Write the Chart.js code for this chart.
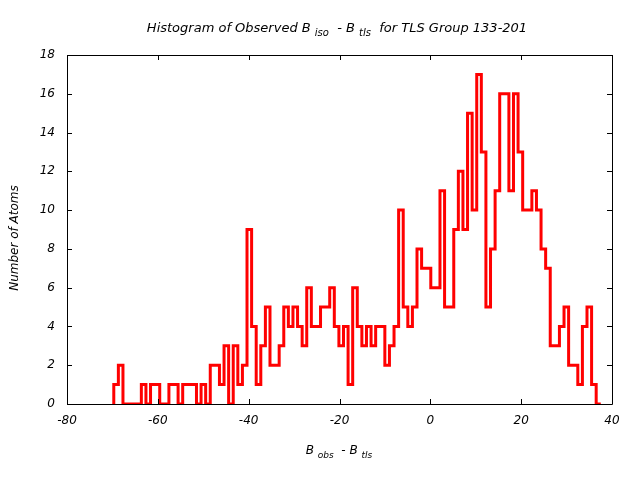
<!DOCTYPE html>
<html>
<head>
<meta charset="utf-8">
<script src="https://cdn.jsdelivr.net/npm/chart.js@4/dist/chart.umd.min.js"></script>
<style>
  html, body { margin: 0; padding: 0; background: #fff; }
</style>
</head>
<body>
<canvas id="hist" width="640" height="480"></canvas>
<script>
// counts per bin from left to right
var counts = [1,2,0,0,0,0,1,0,1,1, 0,0,1,1,0,1,1,1,0,1,
              0,2,2,1,3,0,3,1,2,9, 4,1,3,5,2,2,3,5,4,5,
              4,3,6,4,4,5,5,6,4,3, 4,1,6,4,3,4,3,4,4,2,
              3,4,10,5,4,5,8,7,7,6, 6,11,5,5,9,12,9,15,10,17,
              13,5,8,11,16,16,11,16,13,10, 10,11,10,8,7,3,3,4,5,2,
              2,1,4,5,1,0];
var binStart = -69.7;
var binWidth = 1.0116;
var xTicks = [-80, -60, -40, -20, 0, 20, 40];
var yTicks = [0, 2, 4, 6, 8, 10, 12, 14, 16, 18];

var FONT = '"DejaVu Sans", sans-serif';

// step outline: one point per left bin edge, closed at both ends on zero
var pts = [{x: binStart, y: 0}];
for (var i = 0; i < counts.length; i++) {
  pts.push({x: binStart + i * binWidth, y: counts[i]});
}
pts.push({x: binStart + counts.length * binWidth, y: 0});

function richText(ctx, parts, cx, y, size) {
  var total = 0;
  parts.forEach(function(p) {
    ctx.font = 'italic ' + (p.sub ? size - 3 : size) + 'px ' + FONT;
    p.w = ctx.measureText(p.t).width;
    total += p.w;
  });
  var x = cx - total / 2;
  parts.forEach(function(p) {
    ctx.font = 'italic ' + (p.sub ? size - 3 : size) + 'px ' + FONT;
    ctx.fillText(p.t, x, p.sub ? y + 4 : y);
    x += p.w;
  });
}

var framePlugin = {
  id: 'frame',
  afterDraw: function(chart) {
    var ctx = chart.ctx, a = chart.chartArea;
    var xs = chart.scales.x, ys = chart.scales.y;
    ctx.save();
    ctx.strokeStyle = '#000';
    ctx.lineWidth = 1;
    ctx.beginPath();
    ctx.rect(Math.round(a.left) + 0.5, Math.round(a.top) + 0.5,
             Math.round(a.right - a.left), Math.round(a.bottom - a.top));
    xTicks.forEach(function(v) {
      var px = Math.round(xs.getPixelForValue(v)) + 0.5;
      ctx.moveTo(px, a.bottom); ctx.lineTo(px, a.bottom - 5);
      ctx.moveTo(px, a.top); ctx.lineTo(px, a.top + 5);
    });
    yTicks.forEach(function(v) {
      var py = Math.round(ys.getPixelForValue(v)) + 0.5;
      ctx.moveTo(a.left, py); ctx.lineTo(a.left + 5, py);
      ctx.moveTo(a.right, py); ctx.lineTo(a.right - 5, py);
    });
    ctx.stroke();

    ctx.fillStyle = '#000';
    ctx.textBaseline = 'alphabetic';
    ctx.textAlign = 'left';
    richText(ctx, [
      {t: 'Histogram of Observed B '}, {t: 'iso', sub: true},
      {t: '  - B '}, {t: 'tls', sub: true},
      {t: '  for TLS Group 133-201'}
    ], 337, 32, 13);
    richText(ctx, [
      {t: 'B '}, {t: 'obs', sub: true}, {t: '  - B '}, {t: 'tls', sub: true}
    ], 339, 454, 12);

    ctx.translate(18, 238);
    ctx.rotate(-Math.PI / 2);
    ctx.textAlign = 'center';
    ctx.font = 'italic 12px ' + FONT;
    ctx.fillText('Number of Atoms', 0, 0);
    ctx.restore();
  }
};

new Chart(document.getElementById('hist').getContext('2d'), {
  type: 'line',
  data: {
    datasets: [{
      data: pts,
      stepped: true,
      borderColor: '#ff0000',
      borderWidth: 3,
      borderJoinStyle: 'miter',
      pointRadius: 0,
      fill: false
    }]
  },
  options: {
    responsive: false,
    animation: false,
    devicePixelRatio: 1,
    layout: { padding: { top: 55, right: 28, bottom: 0, left: 0 } },
    plugins: { legend: { display: false }, tooltip: { enabled: false } },
    scales: {
      x: {
        type: 'linear', min: -80, max: 40,
        afterBuildTicks: function(s) { s.ticks = xTicks.map(function(v) { return {value: v}; }); },
        afterFit: function(s) { s.height = 76; },
        grid: { display: false, drawTicks: false },
        border: { display: false },
        ticks: { color: '#000', padding: 10, maxRotation: 0, font: { family: FONT, size: 12, style: 'italic' } }
      },
      y: {
        min: 0, max: 18,
        afterBuildTicks: function(s) { s.ticks = yTicks.map(function(v) { return {value: v}; }); },
        afterFit: function(s) { s.width = 67; },
        grid: { display: false, drawTicks: false },
        border: { display: false },
        ticks: { color: '#000', padding: 12, font: { family: FONT, size: 12, style: 'italic' } }
      }
    }
  },
  plugins: [framePlugin]
});
</script>
</body>
</html>
